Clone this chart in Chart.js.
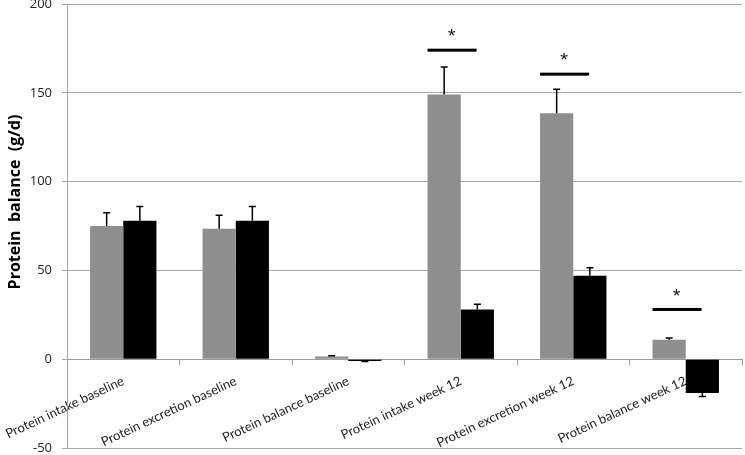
<!DOCTYPE html>
<html>
<head>
<meta charset="utf-8">
<script src="https://cdn.jsdelivr.net/npm/chart.js@4"></script>
<style>
  html, body { margin: 0; padding: 0; background: #fff; }
  #wrap { width: 745px; height: 455px; }
</style>
</head>
<body>
<div id="wrap"><canvas id="chart"></canvas></div>
<script>
const categories = ['Protein intake baseline', 'Protein excretion baseline', 'Protein balance baseline',
  'Protein intake week 12', 'Protein excretion week 12', 'Protein balance week 12'];
const grayValues = [75, 73.5, 1.5, 149, 138.5, 11];
const grayErrors = [7.5, 7.5, 0.5, 15.5, 13.5, 1];
const blackValues = [78, 78, -1, 28, 47, -19];
const blackErrors = [8, 8, 0.3, 3, 4.5, 2];
// height of the significance bar per category (null = none)
const sigLevels = [null, null, null, 174, 160.5, 28];
const yTicks = [-50, 0, 50, 100, 150, 200];
const yTitle = 'Protein  balance  (g/d)';

const errorBars = {
  id: 'errorBars',
  afterDatasetsDraw(chart) {
    const ctx = chart.ctx;
    const y = chart.scales.y;
    const errs = [grayErrors, blackErrors];
    ctx.save();
    ctx.strokeStyle = '#000';
    ctx.lineWidth = 1.5;
    chart.data.datasets.forEach((ds, di) => {
      chart.getDatasetMeta(di).data.forEach((bar, i) => {
        const v = ds.data[i];
        const end = v >= 0 ? v + errs[di][i] : v - errs[di][i];
        const py = y.getPixelForValue(end);
        ctx.beginPath();
        ctx.moveTo(bar.x, y.getPixelForValue(v));
        ctx.lineTo(bar.x, py);
        ctx.moveTo(bar.x - 3.5, py);
        ctx.lineTo(bar.x + 3.5, py);
        ctx.stroke();
      });
    });
    ctx.restore();
  }
};

const sigMarks = {
  id: 'sigMarks',
  afterDatasetsDraw(chart) {
    const ctx = chart.ctx;
    const y = chart.scales.y;
    const grayBars = chart.getDatasetMeta(0).data;
    ctx.save();
    sigLevels.forEach((lvl, i) => {
      if (lvl === null) return;
      const left = grayBars[i].x - grayBars[i].width / 2;
      const py = y.getPixelForValue(lvl);
      ctx.fillStyle = '#000';
      ctx.fillRect(left, py - 1.5, 49, 3);
      ctx.font = '15px "Open Sans"';
      ctx.textAlign = 'center';
      ctx.textBaseline = 'middle';
      ctx.fillText('*', left + 24, py - 14);
    });
    ctx.restore();
  }
};

// y title sits a bit above the middle of the plot, like the original
const yTitlePlugin = {
  id: 'yTitle',
  afterDraw(chart) {
    const ctx = chart.ctx;
    const area = chart.chartArea;
    ctx.save();
    ctx.translate(chart.scales.y.left + 15, (area.top + area.bottom) / 2 - 24);
    ctx.rotate(-Math.PI / 2);
    ctx.font = 'bold 16px "Open Sans"';
    ctx.fillStyle = '#000';
    ctx.textAlign = 'center';
    ctx.textBaseline = 'middle';
    ctx.fillText(yTitle, 0, 0);
    ctx.restore();
  }
};

new Chart(document.getElementById('chart'), {
  type: 'bar',
  data: {
    labels: categories,
    datasets: [
      { label: 'Group A', data: grayValues, backgroundColor: '#8e8e8e' },
      { label: 'Group B', data: blackValues, backgroundColor: '#000000' }
    ]
  },
  options: {
    responsive: true,
    maintainAspectRatio: false,
    animation: false,
    layout: { padding: { top: 4, right: 3, bottom: 7, left: 0 } },
    datasets: { bar: { categoryPercentage: 0.59, barPercentage: 1 } },
    plugins: { legend: { display: false }, tooltip: { enabled: false } },
    scales: {
      x: {
        position: { y: 0 },
        afterFit: (scale) => {
          scale.height = 0;
          scale.paddingLeft = 0;
          scale.paddingRight = 0;
        },
        grid: { offset: true, drawOnChartArea: false, tickLength: 5, color: '#999' },
        border: { color: '#999' },
        ticks: {
          minRotation: 25, maxRotation: 25, padding: 9,
          color: '#222', font: { family: 'Lato', size: 13 }
        }
      },
      y: {
        min: -50, max: 200,
        afterBuildTicks: (scale) => { scale.ticks = yTicks.map(v => ({ value: v })); },
        afterFit: (scale) => {
          scale.width = 67;
          scale.paddingTop = 0;
          scale.paddingBottom = 0;
        },
        grid: { color: '#a6a6a6', tickLength: 5 },
        border: { color: '#a6a6a6' },
        ticks: { color: '#222', padding: 10, font: { family: 'Open Sans', size: 13 } }
      }
    }
  },
  plugins: [errorBars, sigMarks, yTitlePlugin]
});
</script>
</body>
</html>
